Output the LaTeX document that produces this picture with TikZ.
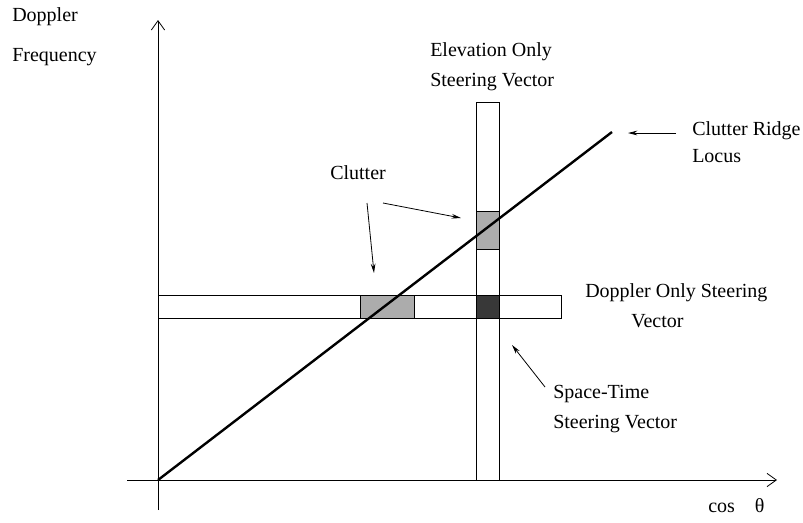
\documentclass[tikz,border=0pt]{standalone}
\usepackage{fontspec}
\setmainfont{Liberation Serif}
\usetikzlibrary{arrows.meta}

\begin{document}
\begin{tikzpicture}[
  x=0.75pt,y=-0.75pt,
  lbl/.style={anchor=base west,inner sep=0pt,font=\fontsize{15}{18}\selectfont},
  axis/.style={-{Straight Barb[length=7pt,width=10pt]},line width=0.6pt},
  strip/.style={draw,line width=0.6pt},
  cell/.style={fill=gray!65},
  darkcell/.style={fill=black!78},
  ridge/.style={line width=1.8pt},
  arr/.style={-{Stealth[length=7pt,width=3.5pt]},line width=0.6pt}
]
\useasboundingbox (0,0) rectangle (803,522);
% axes
\coordinate (origin) at (158,480);
\coordinate (ybot) at (158,510);
\coordinate (ytop) at (158,20);
\coordinate (xleft) at (127,480);
\coordinate (xright) at (777,480);
\draw[axis] (ybot) -- (ytop);
\draw[axis] (xleft) -- (xright);
% shaded cells
\fill[cell] (360,295) rectangle (414,318);
\fill[cell] (476,211) rectangle (499,249);
\fill[darkcell] (476,295) rectangle (499,318);
% steering vector strips
\draw[strip] (158,295) rectangle (561,318);
\draw[strip] (360,295) -- (360,318) (414,295) -- (414,318);
\draw[strip] (476,102) rectangle (499,480);
\draw[strip] (476,211) -- (499,211) (476,249) -- (499,249);
% clutter ridge
\coordinate (ridgeend) at (612,132);
\draw[ridge] (origin) -- (ridgeend);
% labels
\node[lbl] (doppler) at (12,21) {Doppler};
\node[lbl] (freq) at (12,61) {Frequency};
\node[lbl] (elev) at (430,56) {Elevation Only};
\node[lbl] (elevsv) at (430,86) {Steering Vector};
\node[lbl] (clutter) at (330,179) {Clutter};
\node[lbl] (ridgelbl) at (692,135) {Clutter Ridge};
\node[lbl] (locus) at (692,162) {Locus};
\node[lbl] (dopponly) at (585,297) {Doppler Only Steering};
\node[lbl] (doppvec) at (631,327) {Vector};
\node[lbl] (spacetime) at (553,398) {Space-Time};
\node[lbl] (stsv) at (553,428) {Steering Vector};
\node[lbl] (costheta) at (708,512) {cos\quad θ};
% pointers
\coordinate (clutA) at (367,203);
\coordinate (clutB) at (383,203);
\coordinate (hcell) at (374,273);
\coordinate (vcell) at (461,218);
\coordinate (ridgeA) at (676,133);
\coordinate (ridgeB) at (628,133);
\coordinate (stA) at (545,387);
\coordinate (stB) at (512,345);
\draw[arr] (clutA) -- (hcell);
\draw[arr] (clutB) -- (vcell);
\draw[arr] (ridgeA) -- (ridgeB);
\draw[arr] (stA) -- (stB);
\end{tikzpicture}
\end{document}
